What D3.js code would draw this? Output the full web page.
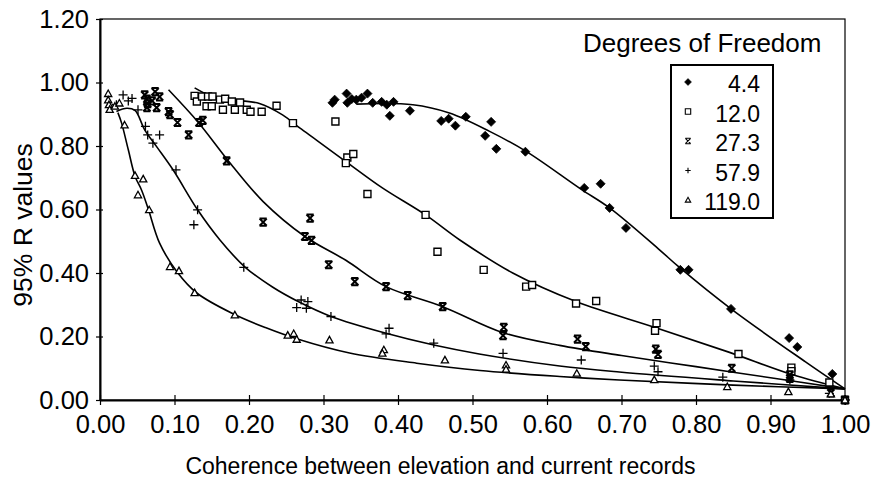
<!DOCTYPE html>
<html>
<head>
<meta charset="utf-8">
<script src="https://cdn.jsdelivr.net/npm/d3@7/dist/d3.min.js"></script>
<style>
  html, body { margin: 0; padding: 0; background: #fff; }
  svg text { font-family: "Liberation Sans", Arial, sans-serif; fill: #000; }
</style>
</head>
<body>
<svg id="chart" width="878" height="481"></svg>
<script>
// Axis tick labels
const xTickLabels = ["0.00","0.10","0.20","0.30","0.40","0.50","0.60","0.70","0.80","0.90","1.00"];
const yTickLabels = ["0.00","0.20","0.40","0.60","0.80","1.00","1.20"];

// Legend entries (degrees of freedom)
const dofLabels = ["4.4", "12.0", "27.3", "57.9", "119.0"];

// Observed 95% R values, [coherence, R]
const pts44 = [[0.312,0.936],[0.315,0.946],[0.331,0.965],[0.332,0.936],[0.338,0.948],[0.344,0.946],
  [0.351,0.952],[0.359,0.965],[0.366,0.936],[0.378,0.939],[0.385,0.930],[0.389,0.895],[0.394,0.939],
  [0.416,0.911],[0.458,0.879],[0.468,0.886],[0.477,0.864],[0.491,0.892],[0.517,0.832],[0.525,0.876],
  [0.532,0.791],[0.571,0.782],[0.650,0.668],[0.672,0.681],[0.684,0.605],[0.706,0.542],[0.779,0.410],
  [0.790,0.410],[0.847,0.287],[0.925,0.195],[0.936,0.167],[0.983,0.082],[1.0,0.0]];
const pts120 = [[0.127,0.958],[0.130,0.940],[0.137,0.956],[0.143,0.925],[0.145,0.956],[0.151,0.956],
  [0.150,0.925],[0.161,0.946],[0.168,0.949],[0.165,0.914],[0.177,0.940],[0.181,0.914],[0.188,0.937],
  [0.197,0.914],[0.202,0.908],[0.217,0.908],[0.237,0.927],[0.259,0.872],[0.316,0.877],[0.332,0.764],
  [0.340,0.775],[0.330,0.746],[0.359,0.649],[0.437,0.583],[0.453,0.467],[0.515,0.410],[0.572,0.357],
  [0.580,0.362],[0.639,0.304],[0.666,0.312],[0.747,0.242],[0.745,0.218],[0.857,0.145],[0.928,0.102],
  [0.928,0.091],[0.979,0.055],[1.0,0.0]];
const pts273 = [[0.060,0.961],[0.063,0.948],[0.064,0.933],[0.063,0.921],[0.074,0.971],[0.076,0.921],
  [0.080,0.955],[0.070,0.942],[0.092,0.908],[0.094,0.899],[0.104,0.874],[0.119,0.835],[0.133,0.874],
  [0.138,0.881],[0.170,0.753],[0.219,0.560],[0.282,0.573],[0.275,0.515],[0.284,0.503],[0.307,0.426],
  [0.342,0.373],[0.384,0.357],[0.413,0.329],[0.460,0.294],[0.542,0.229],[0.541,0.203],[0.641,0.192],
  [0.652,0.168],[0.746,0.160],[0.749,0.144],[0.848,0.100],[0.926,0.079],[0.926,0.068],[0.981,0.022],
  [1.0,0.0]];
const pts579 = [[0.022,0.930],[0.031,0.961],[0.038,0.942],[0.043,0.950],[0.051,0.914],[0.061,0.862],
  [0.064,0.835],[0.071,0.809],[0.080,0.835],[0.102,0.725],[0.131,0.599],[0.126,0.552],[0.193,0.418],
  [0.264,0.291],[0.270,0.315],[0.279,0.310],[0.277,0.289],[0.310,0.263],[0.388,0.226],[0.384,0.208],
  [0.448,0.179],[0.541,0.147],[0.646,0.126],[0.744,0.107],[0.749,0.089],[0.836,0.072],[0.926,0.063],
  [0.979,0.021],[1.0,0.0]];
const pts1190 = [[0.011,0.965],[0.011,0.945],[0.012,0.930],[0.013,0.915],[0.020,0.925],[0.026,0.935],
  [0.033,0.866],[0.047,0.707],[0.058,0.696],[0.051,0.646],[0.066,0.599],[0.094,0.420],[0.106,0.407],
  [0.127,0.338],[0.181,0.268],[0.252,0.204],[0.260,0.209],[0.264,0.191],[0.308,0.189],[0.381,0.158],
  [0.379,0.147],[0.463,0.126],[0.545,0.110],[0.545,0.097],[0.640,0.084],[0.744,0.064],[0.842,0.042],
  [0.924,0.026],[0.981,0.019],[1.0,0.0]];

// Smoothed fit through each set
const fit44 = [[0.344,0.932],[0.42,0.930],[0.469,0.904],[0.523,0.846],[0.572,0.783],[0.645,0.665],
  [0.684,0.605],[0.751,0.473],[0.777,0.419],[0.847,0.287],[0.947,0.120],[1.0,0.035]];
const fit120 = [[0.127,0.983],[0.157,0.949],[0.178,0.944],[0.214,0.934],[0.245,0.898],[0.268,0.857],
  [0.291,0.818],[0.330,0.751],[0.379,0.668],[0.437,0.583],[0.483,0.504],[0.554,0.400],[0.639,0.310],
  [0.747,0.227],[0.845,0.150],[0.929,0.080],[1.0,0.035]];
const fit273 = [[0.092,0.977],[0.132,0.874],[0.174,0.748],[0.219,0.625],[0.275,0.515],[0.330,0.440],
  [0.384,0.357],[0.460,0.294],[0.541,0.212],[0.617,0.172],[0.700,0.140],[0.800,0.105],[0.900,0.070],
  [1.0,0.035]];
const fit579 = [[0.022,0.909],[0.036,0.919],[0.047,0.912],[0.060,0.851],[0.076,0.798],[0.098,0.725],
  [0.131,0.599],[0.161,0.504],[0.195,0.418],[0.232,0.355],[0.266,0.310],[0.310,0.263],[0.384,0.210],
  [0.448,0.173],[0.509,0.145],[0.617,0.107],[0.697,0.088],[0.850,0.060],[1.0,0.035]];
const fit1190 = [[0.024,0.905],[0.029,0.872],[0.038,0.788],[0.047,0.705],[0.056,0.660],[0.065,0.600],
  [0.080,0.494],[0.103,0.405],[0.130,0.337],[0.180,0.270],[0.222,0.228],[0.265,0.192],[0.335,0.148],
  [0.425,0.116],[0.510,0.093],[0.617,0.074],[0.697,0.063],[0.850,0.047],[1.0,0.035]];

const svg = d3.select("#chart");
const margin = { left: 100, right: 33, top: 19, bottom: 81 };
const W = 878, H = 481;
const x = d3.scaleLinear().domain([0, 1]).range([margin.left, W - margin.right]);
const y = d3.scaleLinear().domain([0, 1.2]).range([H - margin.bottom, margin.top]);

// Frame
svg.append("rect")
  .attr("x", x(0)).attr("y", y(1.2))
  .attr("width", x(1) - x(0)).attr("height", y(0) - y(1.2))
  .attr("fill", "none").attr("stroke", "#000").attr("stroke-width", 1.2);

// Axes with crossing tick marks
const xAxis = d3.axisBottom(x).tickValues(xTickLabels.map(Number))
  .tickFormat((d, i) => xTickLabels[i]).tickSizeInner(5).tickSizeOuter(0).tickPadding(10);
const gx = svg.append("g").attr("transform", `translate(0,${y(0)})`).call(xAxis);
gx.selectAll(".tick line").attr("y1", -5).attr("stroke-width", 1.2);
gx.select(".domain").attr("stroke-width", 1.8);
gx.selectAll("text").attr("font-size", 25.5).attr("fill", "#000");

const yAxis = d3.axisLeft(y).tickValues(yTickLabels.map(Number))
  .tickFormat((d, i) => yTickLabels[i]).tickSizeInner(4).tickSizeOuter(0).tickPadding(7);
const gy = svg.append("g").attr("transform", `translate(${x(0)},0)`).call(yAxis);
gy.selectAll(".tick line").attr("x1", -4).attr("x2", 3).attr("stroke-width", 1.2);
gy.select(".domain").attr("stroke-width", 2);
gy.selectAll("text").attr("font-size", 25.5).attr("fill", "#000");

// Axis titles
svg.append("text")
  .attr("x", (x(0) + x(1)) / 2 - 32).attr("y", 474)
  .attr("text-anchor", "middle").attr("font-size", 23)
  .text("Coherence between elevation and current records");
svg.append("text")
  .attr("transform", `translate(32,225) rotate(-90)`)
  .attr("text-anchor", "middle").attr("font-size", 26.5)
  .text("95% R values");

// Marker shapes
const symbolPaths = {
  diamond: s => `M0,${-s}L${s},0L0,${s}L${-s},0Z`,
  square: s => `M${-s},${-s}H${s}V${s}H${-s}Z`,
  xbar: s => `M${-s},${-s}L${s},${s}M${s},${-s}L${-s},${s}M${-s},${-s}H${s}M${-s},${s}H${s}`,
  plus: s => `M${-s},0H${s}M0,${-s}V${s}`,
  triangle: s => `M0,${-s}L${s},${s * 0.8}L${-s},${s * 0.8}Z`
};

const series = [
  { pts: pts44, fit: fit44, shape: "diamond", size: 4.5, fill: "#000", sw: 0.8 },
  { pts: pts120, fit: fit120, shape: "square", size: 3.5, fill: "#fff", sw: 1.4 },
  { pts: pts273, fit: fit273, shape: "xbar", size: 3.6, fill: "none", sw: 2 },
  { pts: pts579, fit: fit579, shape: "plus", size: 4.5, fill: "none", sw: 1.3 },
  { pts: pts1190, fit: fit1190, shape: "triangle", size: 3.6, fill: "#fff", sw: 1.3 }
];

const line = d3.line().x(d => x(d[0])).y(d => y(d[1])).curve(d3.curveCatmullRom.alpha(0.5));

const gLines = svg.append("g");
series.forEach(s => {
  gLines.append("path").attr("d", line(s.fit))
    .attr("fill", "none").attr("stroke", "#000").attr("stroke-width", 1.6);
});

const gPts = svg.append("g");
series.forEach(s => {
  gPts.selectAll(null).data(s.pts).enter().append("path")
    .attr("transform", d => `translate(${x(d[0])},${y(d[1])})`)
    .attr("d", symbolPaths[s.shape](s.size))
    .attr("fill", s.fill).attr("stroke", "#000").attr("stroke-width", s.sw);
});

// Legend
svg.append("text").attr("x", 583).attr("y", 52).attr("font-size", 26).text("Degrees of Freedom");
svg.append("rect").attr("x", 671).attr("y", 65).attr("width", 102).attr("height", 153)
  .attr("fill", "#fff").attr("stroke", "#000").attr("stroke-width", 2);
const legendScale = d3.scalePoint().domain(dofLabels).range([92, 210]);
dofLabels.forEach((lab, i) => {
  const yy = legendScale(lab);
  const s = series[i];
  svg.append("path")
    .attr("transform", `translate(688,${yy - 10})`)
    .attr("d", symbolPaths[s.shape](s.shape === "diamond" ? 3.5 : 2.7))
    .attr("fill", s.fill).attr("stroke", "#000").attr("stroke-width", s.shape === "diamond" ? 0.5 : 1.1);
  svg.append("text").attr("x", 760).attr("y", yy).attr("text-anchor", "end")
    .attr("font-size", 23).text(lab);
});
</script>
</body>
</html>
